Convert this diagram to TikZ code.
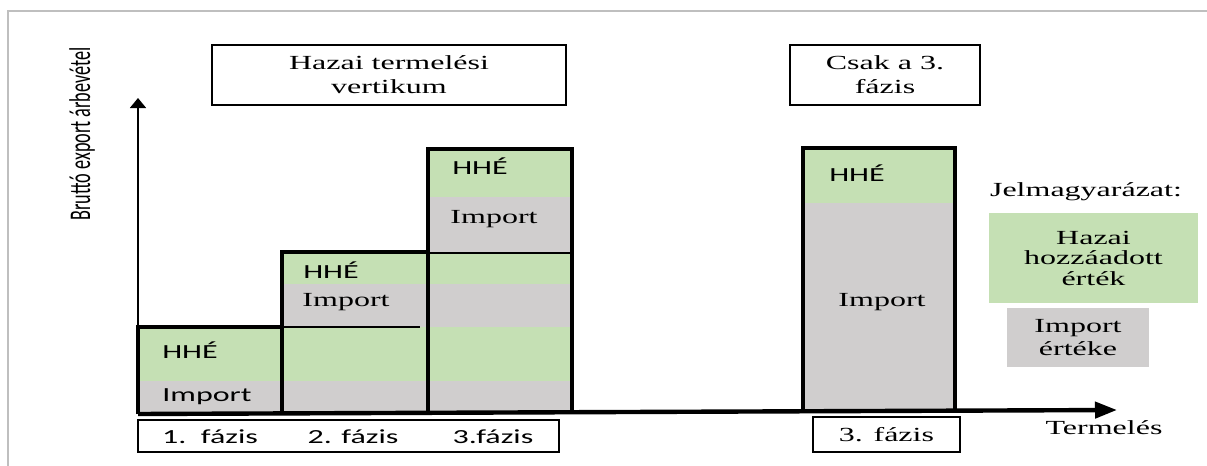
\documentclass[tikz,border=0pt]{standalone}
\usepackage{graphicx}
\usepackage{fontspec}
\setmainfont{Liberation Serif}[FakeStretch=1.6]
\newfontfamily\calibri{Carlito}[FakeStretch=1.6]
\newfontfamily\calibriup{Carlito}
\usetikzlibrary{arrows.meta}
\definecolor{hhegreen}{HTML}{C5E0B4}
\definecolor{impgray}{HTML}{D0CECE}
\definecolor{framegray}{HTML}{BFBFBF}

\begin{document}
\begin{tikzpicture}[x=0.5pt,y=-0.5pt,
	every node/.style={font=\fontsize{10}{12}\selectfont, inner sep=0pt},
	sans/.style={font=\calibri\fontsize{10}{12}\selectfont},
	titlebox/.style={draw, line width=1pt, align=center, minimum height=30pt}]
	\useasboundingbox (0,0) rectangle (1207,466);
	% Frame
	\draw [framegray, line width=1pt] (8,466) -- (8,11) -- (1207,11);
	% Bars
	\fill [hhegreen] (138,327) rectangle (572,381);
	\fill [impgray] (138,381) rectangle (572,414);
	\fill [hhegreen] (282,252) rectangle (572,284);
	\fill [impgray] (282,284) rectangle (572,327);
	\fill [hhegreen] (428,149) rectangle (572,197);
	\fill [impgray] (428,197) rectangle (572,253);
	\fill [hhegreen] (803,148) rectangle (955,203);
	\fill [impgray] (803,203) rectangle (955,412);
	\draw [line width=0.7pt] (283,327) -- (420,327);
	\draw [line width=0.8pt] (428,253) -- (572,253);
	\draw [line width=2.2pt] (138,414) -- (138,327) -- (282,327);
	\draw [line width=2.2pt] (282,414) -- (282,252) -- (428,252);
	\draw [line width=2.2pt] (428,414) -- (428,149) -- (572,149) -- (572,414);
	\draw [line width=2.2pt] (803,412) -- (803,148) -- (955,148) -- (955,412);
	% Axes
	\coordinate (O) at (138,414);
	\coordinate (ytip) at (138,98);
	\coordinate (xtip) at (1117,410);
	\draw [line width=0.8pt, -{Triangle[length=5pt,width=8pt]}] (O) -- (ytip);
	\draw [line width=2.2pt, -{Triangle[length=11pt,width=8pt]}] (O) -- (xtip);
	\node (ylabel) at (82,134) {\rotatebox{90}{\scalebox{1}[1.65]{\calibriup\fontsize{9.1}{10}\selectfont Bruttó export árbevétel}}};
	\node (xlabel) at (1104,428) {Termelés};
	% Titles
	\node [titlebox, minimum width=177pt] (title1) at (389,75) {Hazai termelési\\vertikum};
	\node [titlebox, minimum width=95pt] (title2) at (885,75) {Csak a 3.\\fázis};
	% Bar labels
	\node [sans] (hhe1) at (190,350) {HHÉ};
	\node [sans] (imp1) at (207,397) {Import};
	\node [sans] (hhe2) at (331,270) {HHÉ};
	\node [] (imp2) at (346,302) {Import};
	\node [sans] (hhe3) at (480,166) {HHÉ};
	\node [] (imp3) at (494,219) {Import};
	\node [sans] (hhe4) at (857,173) {HHÉ};
	\node [] (imp4) at (882,302) {Import};
	% Phases
	\node [draw, line width=0.7pt, minimum width=210.5pt, minimum height=16pt] (phases) at (348.5,436) {};
	\node [sans] (ph1) at (210,437) {1.\ \ fázis};
	\node [sans] (ph2) at (353,437) {2. fázis};
	\node [sans] (ph3) at (493,437) {3.fázis};
	\node [draw, line width=0.8pt, minimum width=73.5pt, minimum height=17.5pt] (ph3only) at (886.5,434.5) {3. fázis};
	% Legend
	\node [] (legend) at (1086,192) {Jelmagyarázat:};
	\node [fill=hhegreen, minimum width=104.5pt, minimum height=45pt, align=center, font=\fontsize{10}{10.25}\selectfont] (leghhe) at (1093.5,258) {Hazai\\hozzáadott\\érték};
	\node [fill=impgray, minimum width=71pt, minimum height=29.5pt, align=center, font=\fontsize{10}{11.5}\selectfont] (legimp) at (1078,337.5) {Import\\értéke};
\end{tikzpicture}
\end{document}
